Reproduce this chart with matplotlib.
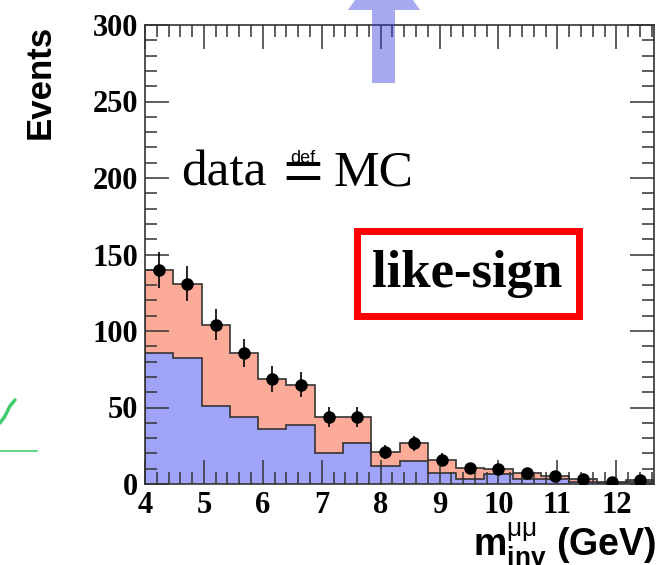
import numpy as np
import matplotlib.pyplot as plt
from matplotlib.patches import Rectangle, Polygon
from matplotlib.lines import Line2D
from matplotlib.ticker import MultipleLocator

plt.rcParams['mathtext.fontset'] = 'custom'
plt.rcParams['mathtext.rm'] = 'Liberation Sans'
plt.rcParams['mathtext.bf'] = 'Liberation Sans:bold'
plt.rcParams['mathtext.it'] = 'Liberation Sans'

# like-sign dimuon invariant mass, 18 bins of 0.48 GeV starting at 4 GeV
edges = 4.0 + 0.48 * np.arange(19)

mc_total = [140, 131, 104, 85.5, 68.5, 65, 44, 44, 21, 26.5, 16, 10.5, 9.5, 7.5, 5, 3, 1.5, 2.5]
mc_blue = [85.5, 82.5, 51, 44, 36, 38.5, 20.5, 27, 12, 15, 7, 3, 6.5, 3.5, 3, 1, 0.5, 1]

# pseudo-data defined as the MC sum
data = mc_total
data_err = [11.8, 11.4, 10.2, 9.2, 8.3, 8.1, 6.6, 6.6, 4.6, 5.1, 4.0, 3.2, 3.1, 2.7, 2.2, 1.7, 1.2, 1.6]

RED = '#fcab99'
BLUE = '#a0a4f8'
LINE = '#333333'

fig = plt.figure(figsize=(6.64, 5.65), dpi=100)
ax = fig.add_axes([145/664, 81/565, 509/664, 459/565])

ax.stairs(mc_total, edges, fill=True, color=RED, zorder=1)
ax.stairs(mc_blue, edges, fill=True, color=BLUE, zorder=1.1)
ax.stairs(mc_total, edges, color=LINE, lw=1.2, zorder=1.2)
ax.stairs(mc_blue, edges, color=LINE, lw=1.2, zorder=1.3)

centers = 0.5 * (edges[:-1] + edges[1:])
ax.errorbar(centers, data, yerr=data_err, fmt='o', color='black', ms=8,
            elinewidth=1.2, capsize=0, zorder=3)

ax.set_xlim(4, edges[-1])
ax.set_ylim(0, 300)
ax.set_axisbelow(False)
ax.xaxis.set_major_locator(MultipleLocator(1))
ax.xaxis.set_minor_locator(MultipleLocator(0.2))
ax.yaxis.set_major_locator(MultipleLocator(50))
ax.yaxis.set_minor_locator(MultipleLocator(10))
ax.tick_params(which='both', direction='in', top=True, right=True, color=LINE, width=1.1)
ax.tick_params(which='major', length=17, pad=5)
ax.tick_params(which='minor', length=8.5)
for s in ax.spines.values():
    s.set_color(LINE)
    s.set_linewidth(1.2)
for lab in ax.get_xticklabels() + ax.get_yticklabels():
    lab.set_fontfamily('Liberation Serif')
    lab.set_fontweight('bold')
    lab.set_fontsize(22)

fig.text(40/664, 1 - 25/565, 'Events', rotation=90, ha='center', va='top',
         family='Liberation Sans', weight='bold', fontsize=25)
fig.text(656/664, 1 - 555/565, r'$\mathbf{m}^{\mathrm{μμ}}_{\mathbf{inv}}$ (GeV)', ha='right',
         va='baseline', family='Liberation Sans', weight='bold', fontsize=27)

# "data =def= MC"
tr = ax.transAxes
ax.text(0.0707, 0.651, 'data', transform=tr, family='Liberation Serif', fontsize=37,
        va='baseline')
ax.text(0.3104, 0.6296, '=', transform=tr, family='Liberation Serif', fontsize=52,
        va='baseline', ha='center')
ax.text(0.3104, 0.70, 'def', transform=tr, family='Liberation Sans', fontsize=13,
        va='baseline', ha='center')
ax.text(0.3695, 0.651, 'MC', transform=tr, family='Liberation Serif', fontsize=37,
        va='baseline')

# like-sign label box
ax.add_patch(Rectangle((0.4165, 0.3671), 0.4371, 0.1841, transform=tr,
                       fc='white', ec='#ff0000', lw=5, zorder=4))
ax.text(0.6326, 0.429, 'like-sign', transform=tr, ha='center', va='baseline',
        family='Liberation Serif', weight='bold', fontsize=38, zorder=5)


def px(x, y):
    return (x / 664, 1 - y / 565)


# translucent arrow pointing up out of the frame
arrow = Polygon([px(372, 83), px(372, 10), px(348, 10), px(384, -41), px(420, 10),
                 px(395, 10), px(395, 83)], closed=True, transform=fig.transFigure,
                fc='#3138d8', ec='none', alpha=0.43, zorder=10)
fig.add_artist(arrow)

# green marks at the left edge
fig.add_artist(Line2D([px(0, 451)[0], px(37, 451)[0]], [px(0, 451)[1]] * 2,
                      transform=fig.transFigure, color='#3fcf6f', lw=1.2))
tick_x = [px(0, 423)[0], px(5, 416)[0], px(10, 406)[0], px(15, 400)[0]]
tick_y = [px(0, 423)[1], px(5, 416)[1], px(10, 406)[1], px(15, 400)[1]]
fig.add_artist(Line2D(tick_x, tick_y, transform=fig.transFigure, color='#3fcf6f',
                      lw=2.5, solid_capstyle='round'))

fig.savefig('out.png', dpi=100)
